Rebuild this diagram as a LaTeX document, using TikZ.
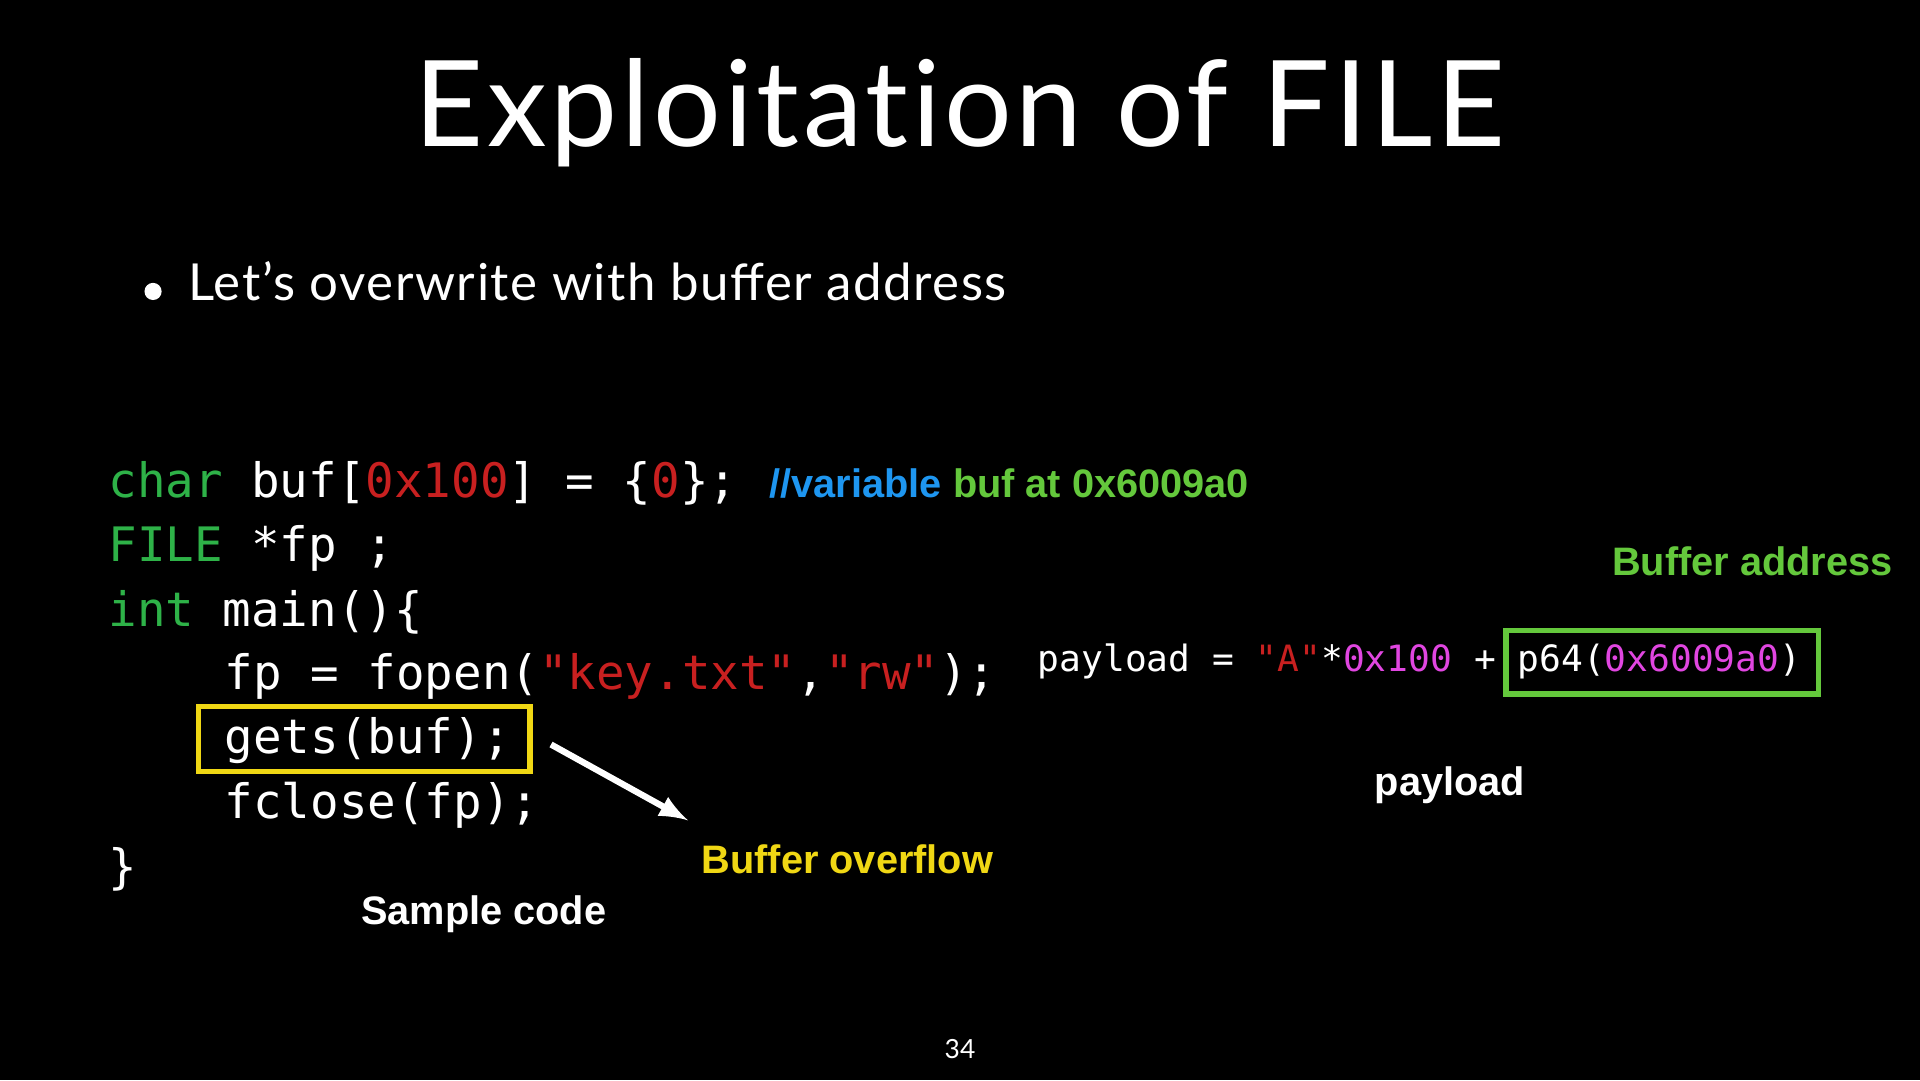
\documentclass[tikz,border=0pt]{standalone}
\usepackage{fontspec}
\setmainfont{Lato}
\setsansfont{Liberation Sans}
\setmonofont{DejaVu Sans Mono}
\newfontfamily\titlefont[Ligatures=NoCommon, LetterSpace=3]{Lato}
\newfontfamily\bodyfont[LetterSpace=3]{Lato}
\definecolor{kwgreen}{RGB}{46,178,72}
\definecolor{strred}{RGB}{200,32,32}
\definecolor{cmblue}{RGB}{30,150,240}
\definecolor{lblgreen}{RGB}{100,200,60}
\definecolor{lblyellow}{RGB}{240,215,20}
\definecolor{numpink}{RGB}{225,70,225}
\newcommand{\kw}[1]{\textcolor{kwgreen}{#1}}
\newcommand{\st}[1]{\textcolor{strred}{#1}}
\newcommand{\nm}[1]{\textcolor{numpink}{#1}}
\tikzset{
    codeline/.style={anchor=west, inner sep=0pt, text=white, font=\ttfamily\fontsize{13.5}{15}\selectfont},
    paycode/.style={anchor=west, inner sep=0pt, text=white, font=\ttfamily\fontsize{10.3}{12}\selectfont},
    lbl/.style={inner sep=0pt, font=\sffamily\bfseries\fontsize{11.3}{13}\selectfont},
    markbox/.style={draw, line width=1.6pt}
}
\begin{document}
\begin{tikzpicture}[x=0.012245cm, y=-0.012245cm]
    \fill[black] (0,0) rectangle (1568,882);
    \useasboundingbox (0,0) rectangle (1568,882);

    \node[text=white, font=\titlefont\fontsize{34}{38}\selectfont] (title) at (784,92) {Exploitation of FILE};
    \fill[white] (125,238) circle (7) coordinate (bullet);
    \node[anchor=west, inner sep=0pt, text=white, font=\bodyfont\fontsize{14.5}{17}\selectfont] (point) at (153,230) {Let’s overwrite with buffer address};

    % sample code
    \node[codeline] (l1) at (88,395) {\kw{char} buf[\st{0x100}] = \{\st{0}\};};
    \node[codeline] (l2) at (88,448) {\kw{FILE} *fp ;};
    \node[codeline] (l3) at (88,500) {\kw{int} main()\{};
    \node[codeline] (l4) at (183,552) {fp = fopen(\st{"key.txt"},\st{"rw"});};
    \node[codeline] (l5) at (183,605) {gets(buf);};
    \node[codeline] (l6) at (183,658) {fclose(fp);};
    \node[codeline] (l7) at (88,710) {\}};
    \node[lbl, anchor=west] (comment) at (628,395) {\textcolor{cmblue}{//variable} \textcolor{lblgreen}{buf at 0x6009a0}};

    \draw[markbox, lblyellow] (162,577) rectangle (433,630);
    \coordinate (gets) at (450,608);
    \coordinate (ovf) at (562,670);
    \draw[white, line width=1.8pt, -latex] (gets) -- (ovf);
    \node[lbl, text=lblyellow] (overflow) at (692,702) {Buffer overflow};
    \node[lbl, text=white] (sample) at (395,747) {Sample code};

    % payload
    \node[paycode] (pay) at (847,540) {payload = \st{"A"}*\nm{0x100} + p64(\nm{0x6009a0})};
    \draw[markbox, lblgreen] (1230,515) rectangle (1485,567);
    \node[lbl, text=lblgreen] (bufaddr) at (1431,458) {Buffer address};
    \node[lbl, text=white] (paylbl) at (1184,641) {payload};

    \node[text=white, font=\fontsize{7.5}{9}\selectfont] (page) at (784,857) {34};
\end{tikzpicture}
\end{document}
